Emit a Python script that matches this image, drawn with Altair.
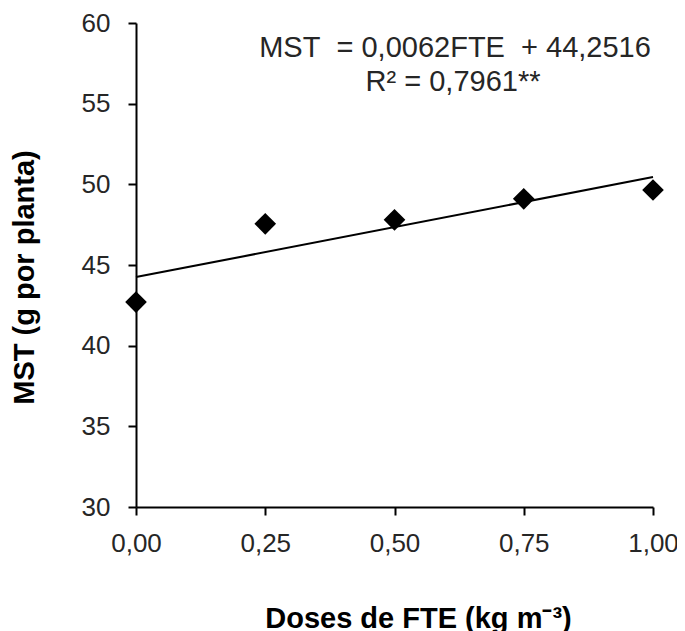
import altair as alt
import pandas as pd

doses = [0.0, 0.25, 0.5, 0.75, 1.0]
mst = [42.7, 47.55, 47.8, 49.1, 49.65]
fit_x = [0.0, 1.0]
fit_y = [44.25, 50.45]
NB = "\u00a0"
eq_lines = ["MST" + NB + NB + "= 0,0062FTE" + NB + NB + "+ 44,2516", "R² = 0,7961**"]

pts = pd.DataFrame({"x": doses, "y": mst})
fit = pd.DataFrame({"x": fit_x, "y": fit_y})

FONT = "Liberation Sans"

xs = alt.Scale(domain=[0, 1], nice=False, zero=False)
ys = alt.Scale(domain=[30, 60], nice=False, zero=False)

xaxis = alt.Axis(
    values=[0, 0.25, 0.5, 0.75, 1.0],
    labelExpr="replace(format(datum.value, '.2f'), '.', ',')",
    title="Doses de FTE (kg m⁻³)",
    grid=False, labelFlush=False,
    tickSize=8, tickWidth=2, tickColor="black",
    domainColor="black", domainWidth=2,
    labelFont=FONT, labelFontSize=26, labelColor="#262626", labelPadding=15,
    titleFont=FONT, titleFontSize=29, titleFontWeight="bold", titleColor="black",
    titleX=282, titleY=120, titleBaseline="alphabetic",
    titleAlign="center",
)
yaxis = alt.Axis(
    values=[30, 35, 40, 45, 50, 55, 60],
    title="MST (g por planta)",
    grid=False, labelFlush=False,
    tickSize=8, tickWidth=2, tickColor="black",
    domainColor="black", domainWidth=2,
    labelFont=FONT, labelFontSize=26, labelColor="#262626", labelPadding=18,
    titleFont=FONT, titleFontSize=29, titleFontWeight="bold", titleColor="black",
    titleX=-103, titleY=254, titleBaseline="alphabetic", titleAngle=270,
    titleAlign="center",
)

line = alt.Chart(fit).mark_line(color="black", strokeWidth=2).encode(
    x=alt.X("x:Q", scale=xs, axis=xaxis),
    y=alt.Y("y:Q", scale=ys, axis=yaxis),
)
points = alt.Chart(pts).mark_point(shape="diamond", filled=True, color="black", size=470, opacity=1).encode(
    x=alt.X("x:Q", scale=xs),
    y=alt.Y("y:Q", scale=ys),
)
eq1 = alt.Chart(pd.DataFrame({"t": [eq_lines[0]]})).mark_text(
    font=FONT, fontSize=29, color="#262626", align="center", baseline="alphabetic"
).encode(text="t:N", x=alt.value(319), y=alt.value(34))
eq2 = alt.Chart(pd.DataFrame({"t": [eq_lines[1]]})).mark_text(
    font=FONT, fontSize=29, color="#262626", align="center", baseline="alphabetic"
).encode(text="t:N", x=alt.value(317), y=alt.value(68))

chart = alt.layer(line, points, eq1, eq2).properties(
    width=517, height=484,
    autosize=alt.AutoSizeParams(type="none"),
    padding={"left": 128, "top": 15, "right": 24, "bottom": 124},
).configure_view(stroke=None)

chart.save("out.html", embed_options={"renderer": "svg", "actions": False})
